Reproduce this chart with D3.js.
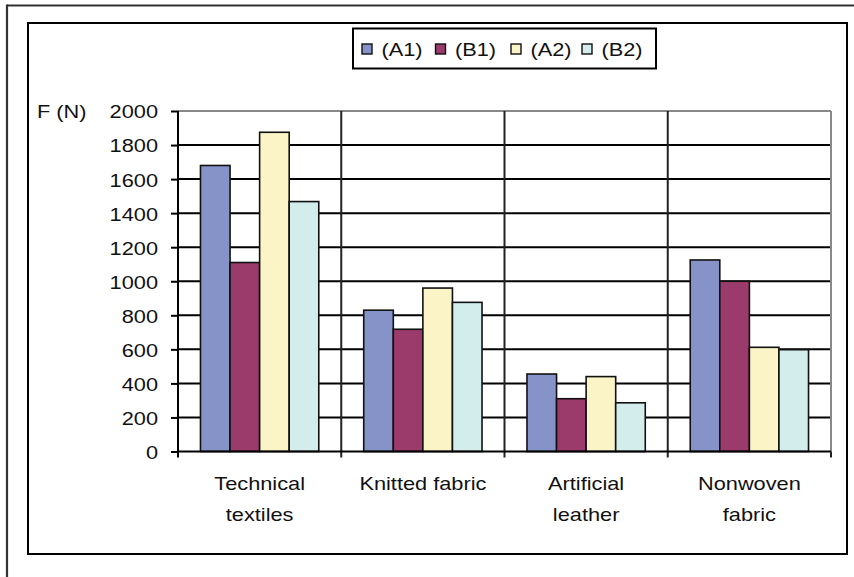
<!DOCTYPE html>
<html>
<head>
<meta charset="utf-8">
<script src="https://cdn.jsdelivr.net/npm/d3@7"></script>
<style>
  html, body { margin: 0; padding: 0; background: #fff; }
  svg { display: block; font-family: "Liberation Sans", Arial, sans-serif; }
</style>
</head>
<body>
<svg id="chart" width="854" height="577"></svg>
<script>
// Data
const categories = [["Technical", "textiles"], ["Knitted fabric"], ["Artificial", "leather"], ["Nonwoven", "fabric"]];
const seriesNames = ["(A1)", "(B1)", "(A2)", "(B2)"];
const seriesColors = ["#8593C9", "#9B3B6B", "#FAF4C6", "#D3ECEC"];
const valuesA1 = [1680, 830, 455, 1125];
const valuesB1 = [1110, 718, 310, 1000];
const valuesA2 = [1875, 960, 440, 612];
const valuesB2 = [1468, 876, 286, 598];
const yTicks = [0, 200, 400, 600, 800, 1000, 1200, 1400, 1600, 1800, 2000];
const yLabel = "F (N)";

const seriesValues = [valuesA1, valuesB1, valuesA2, valuesB2];
const catKeys = categories.map(c => c.join(" "));

const svg = d3.select("#chart");
const SX = 1.17;      // horizontal stretch of the lettering
const FS = 18.6;

function label(g, x, y, str, anchor) {
  return g.append("text")
    .attr("transform", `translate(${x},${y}) scale(${SX},1)`)
    .attr("text-anchor", anchor || "start")
    .attr("dominant-baseline", "central")
    .attr("font-size", FS)
    .attr("fill", "#111")
    .text(str);
}

// Outer frame (left and top edges)
svg.append("line").attr("x1", 7).attr("y1", 5.5).attr("x2", 854).attr("y2", 5.5)
  .attr("stroke", "#333").attr("stroke-width", 2.2);
svg.append("line").attr("x1", 7).attr("y1", 4.5).attr("x2", 7).attr("y2", 577)
  .attr("stroke", "#333").attr("stroke-width", 2.2);

// Chart box
svg.append("rect").attr("x", 28).attr("y", 23).attr("width", 819).attr("height", 531)
  .attr("fill", "#fff").attr("stroke", "#000").attr("stroke-width", 2);

// Scales
const x0 = d3.scaleBand().domain(catKeys).range([178, 831]).paddingInner(0).paddingOuter(0);
const x1 = d3.scaleBand().domain(seriesNames).range([0, x0.bandwidth()]).paddingInner(0).paddingOuter(0.76);
const y = d3.scaleLinear().domain([0, 2000]).range([451.5, 111]);

const plot = svg.append("g");

// Horizontal gridlines
plot.selectAll("line.grid").data(yTicks.filter(t => t > 0 && t < 2000)).join("line")
  .attr("class", "grid")
  .attr("x1", 178).attr("x2", 831)
  .attr("y1", d => y(d)).attr("y2", d => y(d))
  .attr("stroke", "#000").attr("stroke-width", 2);

// Plot area border (top and right)
plot.append("line").attr("x1", 178).attr("x2", 831).attr("y1", y(2000)).attr("y2", y(2000))
  .attr("stroke", "#888").attr("stroke-width", 2);
plot.append("line").attr("x1", 831).attr("x2", 831).attr("y1", y(2000)).attr("y2", y(0))
  .attr("stroke", "#888").attr("stroke-width", 2);

// Category separators
const seps = catKeys.slice(1).map(k => x0(k));
plot.selectAll("line.sep").data(seps).join("line")
  .attr("class", "sep")
  .attr("x1", d => d).attr("x2", d => d)
  .attr("y1", y(2000)).attr("y2", y(0) + 6)
  .attr("stroke", "#222").attr("stroke-width", 2);

// Bars
const groups = plot.selectAll("g.cat").data(catKeys).join("g")
  .attr("class", "cat")
  .attr("transform", d => `translate(${x0(d)},0)`);
groups.selectAll("rect").data((d, ci) => seriesNames.map((s, si) => ({ s, si, v: seriesValues[si][ci] }))).join("rect")
  .attr("x", d => x1(d.s))
  .attr("width", x1.bandwidth())
  .attr("y", d => y(d.v))
  .attr("height", d => y(0) - y(d.v))
  .attr("fill", d => seriesColors[d.si])
  .attr("stroke", "#111").attr("stroke-width", 1.6);

// X axis baseline and ticks
plot.append("line").attr("x1", 178).attr("x2", 831).attr("y1", y(0)).attr("y2", y(0))
  .attr("stroke", "#000").attr("stroke-width", 2);
plot.append("line").attr("x1", 831).attr("x2", 831).attr("y1", y(0)).attr("y2", y(0) + 6)
  .attr("stroke", "#222").attr("stroke-width", 2);

// Y axis
const yAxis = d3.axisLeft(y).tickValues(yTicks).tickSize(7).tickFormat("");
const yg = plot.append("g").attr("transform", "translate(178,0)").call(yAxis);
yg.select(".domain").attr("stroke", "#000").attr("stroke-width", 2).attr("d", `M0,${y(2000)}V${y(0) + 6}`);
yg.selectAll(".tick line").attr("stroke", "#000").attr("stroke-width", 2);

const labels = svg.append("g");
yTicks.forEach(t => label(labels, 158, y(t) + 1, String(t), "end"));
label(labels, 37, y(2000) + 1, yLabel, "start");

// Category labels
categories.forEach((lines, i) => {
  const cx = x0(catKeys[i]) + x0.bandwidth() / 2;
  lines.forEach((ln, j) => label(labels, cx, 484 + j * 30.5, ln, "middle"));
});

// Legend
const lg = svg.append("g");
lg.append("rect").attr("x", 353).attr("y", 28.5).attr("width", 303).attr("height", 40)
  .attr("fill", "#fff").attr("stroke", "#000").attr("stroke-width", 2);
const legX = [362, 435.5, 511, 582];
seriesNames.forEach((s, i) => {
  lg.append("rect").attr("x", legX[i]).attr("y", 44).attr("width", 10).attr("height", 10)
    .attr("fill", seriesColors[i]).attr("stroke", "#111").attr("stroke-width", 1.4);
  label(lg, legX[i] + 19.5, 49.5, s, "start");
});
</script>
</body>
</html>
